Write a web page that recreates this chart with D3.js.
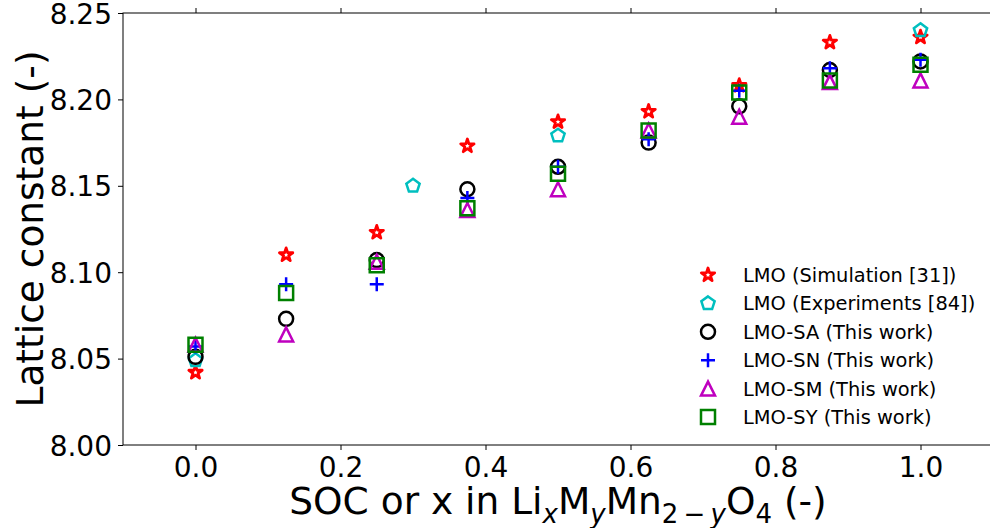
<!DOCTYPE html>
<html>
<head>
<meta charset="utf-8">
<script src="https://cdn.jsdelivr.net/npm/d3@7"></script>
<style>
  html, body { margin: 0; padding: 0; background: #fff; }
  svg { display: block; font-family: "DejaVu Sans", sans-serif; }
</style>
</head>
<body>
<svg id="chart" width="990" height="528"></svg>
<script>
// Lattice constant vs. state of charge for LMO and doped LMO variants
const socGrid = [0, 0.125, 0.25, 0.375, 0.5, 0.625, 0.75, 0.875, 1.0];
const simValues = [8.042, 8.110, 8.123, 8.173, 8.187, 8.193, 8.208, 8.233, 8.236];
const expSoc = [0, 0.3, 0.5, 1.0];
const expValues = [8.049, 8.150, 8.179, 8.240];
const saValues = [8.051, 8.073, 8.107, 8.148, 8.161, 8.175, 8.196, 8.217, 8.222];
const snValues = [8.057, 8.093, 8.093, 8.143, 8.161, 8.177, 8.205, 8.218, 8.223];
const smValues = [8.058, 8.064, 8.106, 8.136, 8.148, 8.182, 8.190, 8.210, 8.211];
const syValues = [8.058, 8.088, 8.104, 8.137, 8.157, 8.182, 8.204, 8.211, 8.220];

const xTicks = [0.0, 0.2, 0.4, 0.6, 0.8, 1.0];
const yTicks = [8.00, 8.05, 8.10, 8.15, 8.20, 8.25];

const seriesNames = [
  "LMO (Simulation [31])",
  "LMO (Experiments [84])",
  "LMO-SA (This work)",
  "LMO-SN (This work)",
  "LMO-SM (This work)",
  "LMO-SY (This work)"
];
const seriesColors = ["#ff0000", "#00bfbf", "#000000", "#0000ff", "#bf00bf", "#008000"];
const seriesMarkers = ["star", "pentagon", "circle", "plus", "triangle", "square"];

const series = [
  { xs: socGrid, ys: simValues },
  { xs: expSoc, ys: expValues },
  { xs: socGrid, ys: saValues },
  { xs: socGrid, ys: snValues },
  { xs: socGrid, ys: smValues },
  { xs: socGrid, ys: syValues }
].map((s, i) => ({
  name: seriesNames[i], color: seriesColors[i], marker: seriesMarkers[i],
  points: s.xs.map((x, j) => ({ x, y: s.ys[j] }))
}));

const svg = d3.select("#chart");
const margin = { left: 123, top: 13, right: 993, bottom: 445 };

const x = d3.scaleLinear().domain([-0.1, 1.1]).range([margin.left, margin.right]);
const y = d3.scaleLinear().domain([8.00, 8.25]).range([margin.bottom, margin.top]);

// Marker shapes, sized in px (overall diameter)
const MS = 14;
const MEW = 2.5;
function markerPath(kind, s) {
  const r = s / 2;
  if (kind === "circle") {
    return `M${r},0A${r},${r} 0 1,1 ${-r},0A${r},${r} 0 1,1 ${r},0Z`;
  }
  if (kind === "square") {
    return `M${-r},${-r}H${r}V${r}H${-r}Z`;
  }
  if (kind === "triangle") {
    return `M0,${-r}L${-r},${r}L${r},${r}Z`;
  }
  if (kind === "plus") {
    return `M${-r},0H${r}M0,${-r}V${r}`;
  }
  if (kind === "pentagon") {
    const pts = d3.range(5).map(k => {
      const a = -Math.PI / 2 + k * 2 * Math.PI / 5;
      return [r * Math.cos(a), r * Math.sin(a)];
    });
    return "M" + pts.map(p => p.join(",")).join("L") + "Z";
  }
  if (kind === "star") {
    const ri = r * 0.381966;
    const pts = d3.range(10).map(k => {
      const a = -Math.PI / 2 + k * Math.PI / 5;
      const rr = k % 2 === 0 ? r : ri;
      return [rr * Math.cos(a), rr * Math.sin(a)];
    });
    return "M" + pts.map(p => p.join(",")).join("L") + "Z";
  }
  return "";
}
function styleMarker(sel, s) {
  sel.attr("d", markerPath(s.marker, MS))
    .attr("fill", "none")
    .attr("stroke", s.color)
    .attr("stroke-width", s.marker === "star" ? 2.8 : MEW)
    .attr("stroke-linejoin", s.marker === "star" ? "round" : "miter");
}

// Axes (full box, ticks pointing outward)
const tickFont = 28;
const gx = svg.append("g").attr("transform", `translate(0,${margin.bottom})`)
  .call(d3.axisBottom(x).tickValues(xTicks).tickFormat(d3.format(".1f")).tickSize(5).tickPadding(7));
gx.select(".domain").remove();
gx.selectAll("line").attr("stroke", "#000").attr("stroke-width", 1);
gx.selectAll("text").attr("font-size", tickFont).attr("font-family", "DejaVu Sans").attr("fill", "#000");

const gxTop = svg.append("g").attr("transform", `translate(0,${margin.top})`)
  .call(d3.axisTop(x).tickValues(xTicks).tickFormat("").tickSize(5));
gxTop.select(".domain").remove();
gxTop.selectAll("line").attr("stroke", "#000").attr("stroke-width", 1);

const gy = svg.append("g").attr("transform", `translate(${margin.left},0)`)
  .call(d3.axisLeft(y).tickValues(yTicks).tickFormat(d3.format(".2f")).tickSize(5).tickPadding(6));
gy.select(".domain").remove();
gy.selectAll("line").attr("stroke", "#000").attr("stroke-width", 1);
gy.selectAll("text").attr("font-size", tickFont).attr("font-family", "DejaVu Sans").attr("fill", "#000").attr("dy", "0.36em");

const gyRight = svg.append("g").attr("transform", `translate(${margin.right},0)`)
  .call(d3.axisRight(y).tickValues(yTicks).tickFormat("").tickSize(5));
gyRight.select(".domain").remove();
gyRight.selectAll("line").attr("stroke", "#000").attr("stroke-width", 1);

svg.append("rect")
  .attr("x", margin.left).attr("y", margin.top)
  .attr("width", margin.right - margin.left).attr("height", margin.bottom - margin.top)
  .attr("fill", "none").attr("stroke", "#000").attr("stroke-width", 1);

// Data markers
series.forEach(s => {
  svg.append("g").selectAll("path").data(s.points).join("path")
    .attr("transform", d => `translate(${x(d.x)},${y(d.y)})`)
    .call(styleMarker, s);
});

// Legend
const legend = svg.append("g").attr("transform", "translate(708,275)");
series.forEach((s, i) => {
  const row = legend.append("g").attr("transform", `translate(0,${i * 28.4})`);
  row.append("path").call(styleMarker, s);
  row.append("text").attr("x", 35).attr("y", 0).attr("dy", "0.36em")
    .attr("font-size", 19.4).attr("fill", "#000").text(s.name);
});

// Axis titles
const titleFont = 37.5;
svg.append("text")
  .attr("transform", `translate(43,${(margin.top + margin.bottom) / 2}) rotate(-90)`)
  .attr("text-anchor", "middle").attr("font-size", titleFont).attr("fill", "#000")
  .text("Lattice constant (-)");

const xl = svg.append("text")
  .attr("x", (margin.left + margin.right) / 2).attr("y", 514)
  .attr("text-anchor", "middle").attr("font-size", titleFont).attr("fill", "#000");
const subSize = 26;
const subShift = 9;
const parts = [
  ["SOC or x in Li", false, false],
  ["x", true, true],
  ["M", false, false],
  ["y", true, true],
  ["Mn", false, false],
  ["2\u2009\u2212\u2009", true, false],
  ["y", true, true],
  ["O", false, false],
  ["4", true, false],
  [" (-)", false, false]
];
let lowered = false;
parts.forEach(([t, sub, ital]) => {
  const ts = xl.append("tspan").text(t);
  if (sub) {
    ts.attr("font-size", subSize);
    if (!lowered) { ts.attr("dy", subShift); lowered = true; }
    if (ital) ts.attr("font-style", "italic");
  } else if (lowered) {
    ts.attr("dy", -subShift); lowered = false;
  }
});
</script>
</body>
</html>
